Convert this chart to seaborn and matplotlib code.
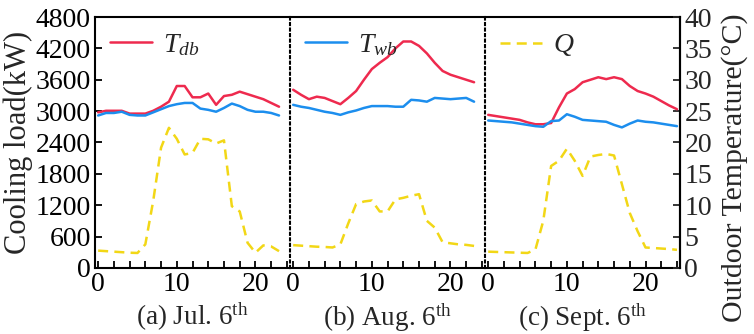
import matplotlib
matplotlib.use("Agg")
import matplotlib.pyplot as plt
import seaborn as sns
import pandas as pd

# hours of day for the three days
hours_jul = list(range(24))
hours_aug = list(range(24))
hours_sep = list(range(25))

# cooling load Q (kW)
q_jul = [330, 320, 310, 300, 290, 285, 450, 1280, 2300, 2680, 2470, 2170,
         2200, 2470, 2460, 2380, 2440, 1180, 1080, 480, 290, 430, 410, 320]
q_aug = [435, 425, 415, 405, 400, 390, 450, 850, 1220, 1270, 1290, 1080,
         1080, 1310, 1340, 1380, 1410, 900, 770, 490, 470, 450, 440, 420]
q_sep = [310, 305, 300, 295, 290, 285, 350, 900, 1950, 2050, 2280, 2050,
         1760, 2130, 2160, 2180, 2150, 1600, 1050, 700, 390, 380, 370, 360, 345]

# dry bulb temperature (C)
tdb_jul = [24.8, 25.05, 25.05, 25.05, 24.6, 24.6, 24.6, 25.05, 25.7, 26.5, 29.0, 29.0,
           27.2, 27.2, 27.8, 26.0, 27.4, 27.6, 28.1, 27.7, 27.3, 26.9, 26.3, 25.7]
tdb_aug = [28.4, 27.6, 26.9, 27.3, 27.1, 26.6, 26.1, 27.1, 28.2, 30.0, 31.7, 32.7,
           33.6, 35.0, 36.1, 36.1, 35.4, 34.2, 32.7, 31.4, 30.8, 30.4, 30.0, 29.6]
tdb_sep = [24.4, 24.2, 24.0, 23.8, 23.6, 23.2, 22.9, 22.9, 23.1, 25.6, 27.8, 28.5,
           29.6, 30.0, 30.4, 30.1, 30.4, 30.1, 29.0, 28.2, 27.8, 27.3, 26.6, 25.9, 25.3]

# wet bulb temperature (C)
twb_jul = [24.3, 24.7, 24.7, 24.9, 24.4, 24.3, 24.3, 24.8, 25.3, 25.8, 26.1, 26.3,
           26.3, 25.4, 25.2, 24.9, 25.5, 26.2, 25.8, 25.2, 24.9, 24.9, 24.7, 24.3]
twb_aug = [26.0, 25.7, 25.5, 25.2, 24.9, 24.7, 24.4, 24.8, 25.1, 25.5, 25.8, 25.8,
           25.8, 25.7, 25.7, 26.8, 26.7, 26.5, 27.1, 27.0, 26.9, 27.0, 27.1, 26.5]
twb_sep = [23.5, 23.4, 23.3, 23.2, 23.0, 22.8, 22.6, 22.5, 23.4, 23.5, 24.5, 24.1,
           23.6, 23.5, 23.4, 23.3, 22.8, 22.4, 23.0, 23.5, 23.3, 23.2, 23.0, 22.8, 22.6]

day_labels = ['(a) Jul. 6$^{\\rm th}$', '(b) Aug. 6$^{\\rm th}$', '(c) Sept. 6$^{\\rm th}$']

RED = '#EE2A4E'
BLUE = '#1C8EEE'
YELLOW = '#F2D716'

sns.set_style('ticks')
plt.rcParams['font.family'] = ['Liberation Serif', 'DejaVu Serif']
plt.rcParams['mathtext.fontset'] = 'custom'
plt.rcParams['mathtext.rm'] = 'Liberation Serif'
plt.rcParams['mathtext.it'] = 'Liberation Serif:italic'

days = [
    (hours_jul, q_jul, tdb_jul, twb_jul),
    (hours_aug, q_aug, tdb_aug, twb_aug),
    (hours_sep, q_sep, tdb_sep, twb_sep),
]

fig, axes = plt.subplots(1, 3, figsize=(7.54, 3.34), dpi=100, sharey=True)
fig.subplots_adjust(left=0.126, right=0.902, top=0.949, bottom=0.198, wspace=0)

tick_fs = 20
lw = 1.8

for i, (ax, (hrs, q, tdb, twb)) in enumerate(zip(axes, days)):
    df = pd.DataFrame({'hour': hrs, 'Q': q, 'Tdb': tdb, 'Twb': twb})

    sns.lineplot(data=df, x='hour', y='Q', ax=ax, color=YELLOW, lw=lw)
    ax.lines[-1].set_dashes([4, 2.5])
    ax.set_xlim(-0.4, 24.4)
    ax.set_ylim(0, 4800)
    ax.set_yticks(range(0, 4801, 600))
    ax.set_xticks(range(0, 25, 2))
    ax.set_xticklabels([str(t) if t % 10 == 0 else '' for t in range(0, 25, 2)])
    ax.set_xlabel(day_labels[i], fontsize=19.5, labelpad=3)
    ax.set_ylabel('')
    ax.tick_params(direction='in', length=5, width=1.3, labelsize=tick_fs, pad=3,
                   colors='black')

    tw = ax.twinx()
    sns.lineplot(data=df, x='hour', y='Tdb', ax=tw, color=RED, lw=lw)
    sns.lineplot(data=df, x='hour', y='Twb', ax=tw, color=BLUE, lw=lw)
    tw.set_ylim(0, 40)
    tw.set_yticks(range(0, 41, 5))
    tw.set_ylabel('')
    tw.tick_params(direction='in', length=5, width=1.3, labelsize=tick_fs, pad=3)
    for s in tw.spines.values():
        s.set_visible(False)

    for name in ['top', 'bottom', 'left', 'right']:
        ax.spines[name].set_color('black')
        ax.spines[name].set_linewidth(1.5)
    if i < 2:
        ax.spines['right'].set_visible(False)
        tw.tick_params(axis='y', right=False, labelright=False)
    else:
        tw.spines['right'].set_visible(True)
        tw.spines['right'].set_color('black')
        tw.spines['right'].set_linewidth(1.5)
    if i > 0:
        ax.spines['left'].set_linestyle(':')
        ax.tick_params(axis='y', left=False, labelleft=False)

    handle = [tw.lines[0], tw.lines[1], ax.lines[0]][i]
    text = ['$T_{db}$', '$T_{wb}$', '$Q$'][i]
    tw.legend([handle], [text], loc='upper left', frameon=False, fontsize=20,
              handlelength=1.5, handletextpad=0.4, borderaxespad=0.15)

axes[0].set_ylabel('Cooling load(kW)', fontsize=22, labelpad=2)
tw.set_ylabel('Outdoor Temperature(°C)', fontsize=21.5)
tw.yaxis.set_label_coords(1.21, 0.4)

fig.savefig('out.png', dpi=100)
